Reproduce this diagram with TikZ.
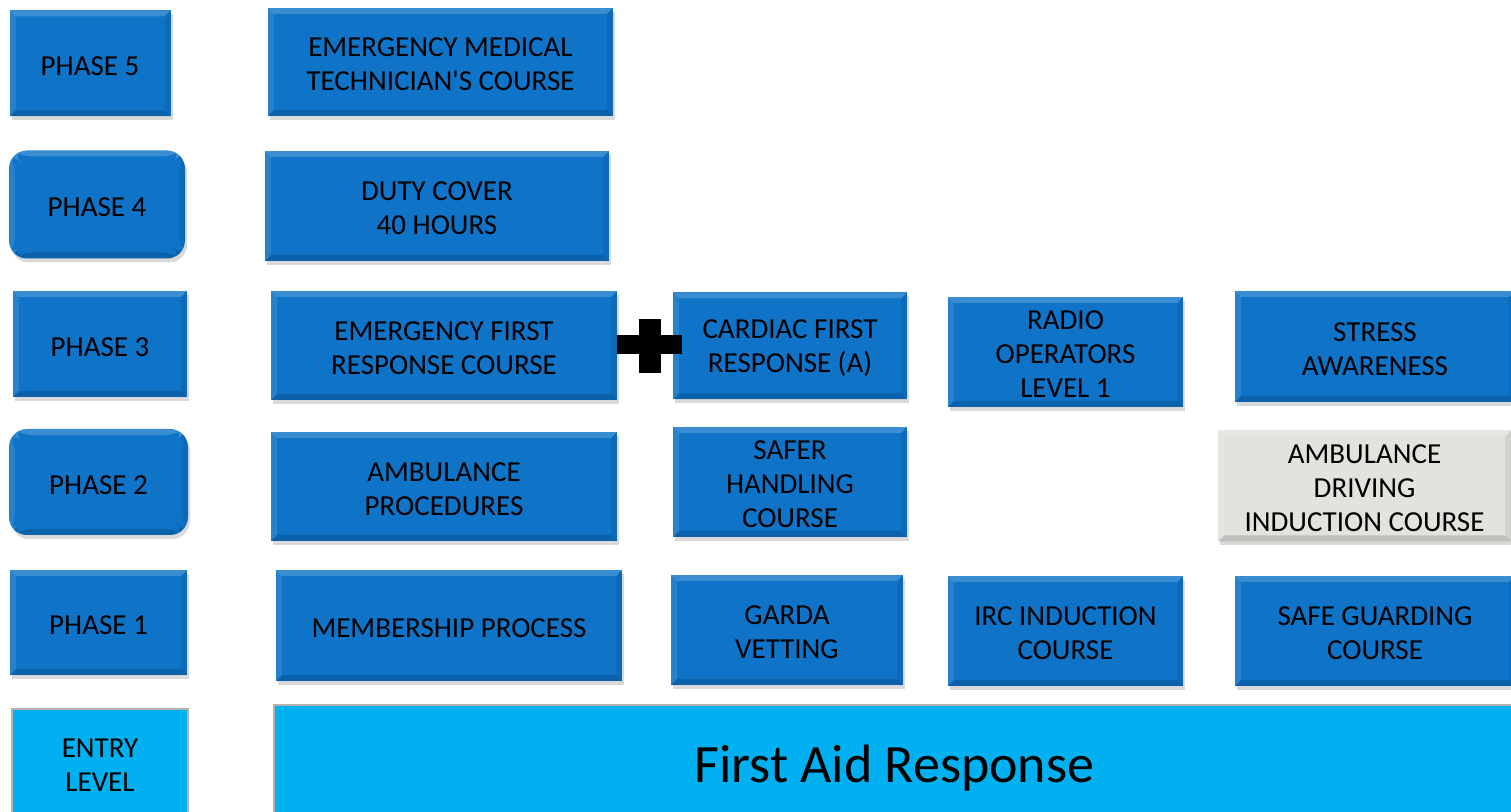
\documentclass[tikz,border=0pt]{standalone}
\usepackage{fontspec}
\setmainfont{Carlito}
\usetikzlibrary{shadows}
\definecolor{boxblue}{RGB}{15,116,200}
\definecolor{entryblue}{RGB}{0,176,240}
\definecolor{boxgrey}{RGB}{228,226,221}
\definecolor{rimgrey}{RGB}{182,178,170}
\newcommand{\linelift}{\rule{0pt}{12pt}}
\tikzset{
  bevel/.style={path picture={
    \fill[white,opacity=0.18] (path picture bounding box.north west) -- (path picture bounding box.north east)
      -- ([xshift=-3pt,yshift=-3pt]path picture bounding box.north east) -- ([xshift=3pt,yshift=-3pt]path picture bounding box.north west) -- cycle;
    \fill[white,opacity=0.10] (path picture bounding box.north west) -- ([xshift=3pt,yshift=-3pt]path picture bounding box.north west)
      -- ([xshift=3pt,yshift=3pt]path picture bounding box.south west) -- (path picture bounding box.south west) -- cycle;
    \fill[black,opacity=0.15] (path picture bounding box.south west) -- (path picture bounding box.south east)
      -- ([xshift=-3pt,yshift=3pt]path picture bounding box.south east) -- ([xshift=3pt,yshift=3pt]path picture bounding box.south west) -- cycle;
    \fill[black,opacity=0.08] (path picture bounding box.north east) -- ([xshift=-3pt,yshift=-3pt]path picture bounding box.north east)
      -- ([xshift=-3pt,yshift=3pt]path picture bounding box.south east) -- (path picture bounding box.south east) -- cycle;
  }},
  lift/.style={execute at begin node={\rule{0pt}{#1}}},
  phase/.style={rectangle, fill=boxblue, bevel, align=center, inner sep=0pt,
    drop shadow={shadow xshift=1pt, shadow yshift=-2pt, opacity=0.3},
    lift=12.5pt, font=\fontsize{14.5}{17}\selectfont},
  roundphase/.style={phase, rounded corners=9pt},
  course/.style={phase},
  greycourse/.style={phase, fill=boxgrey},
  entry/.style={rectangle, fill=entryblue, draw=rimgrey, line width=1.2pt, align=center, inner sep=0pt,
    lift=12.5pt, font=\fontsize{14.5}{17}\selectfont}
}
\begin{document}
\begin{tikzpicture}[x=0.5pt, y=-0.5pt]
\useasboundingbox (0,0) rectangle (1511,812);
% phases down the left side
\node[phase, minimum width=80.5pt, minimum height=53pt] (p5) at (90,63.5) {PHASE 5};
\node[roundphase, minimum width=88pt, minimum height=54pt] (p4) at (97,204.5) {PHASE 4};
\node[phase, minimum width=87pt, minimum height=53pt] (p3) at (100,344) {PHASE 3};
\node[roundphase, minimum width=89.5pt, minimum height=53pt] (p2) at (98.5,482) {PHASE 2};
\node[phase, minimum width=88.5pt, minimum height=52.5pt] (p1) at (98.5,622.5) {PHASE 1};
\node[entry, minimum width=88pt, minimum height=53pt] (entry) at (100,762) {\linelift ENTRY\\LEVEL};
% courses
\node[course, minimum width=172.5pt, minimum height=54pt] (emt) at (440.5,62) {\linelift EMERGENCY MEDICAL\\TECHNICIAN\textquotesingle S COURSE};
\node[course, minimum width=172pt, minimum height=55pt] (duty) at (437,206) {\linelift DUTY COVER\\40 HOURS};
\node[course, minimum width=173pt, minimum height=54.5pt] (efr) at (444,345.5) {\linelift EMERGENCY FIRST\\RESPONSE COURSE};
\node[course, minimum width=117pt, minimum height=53.5pt] (cfr) at (790,346) {\linelift CARDIAC FIRST\\RESPONSE (A)};
\node[course, minimum width=117.5pt, minimum height=55pt] (radio) at (1065.5,352) {\linelift RADIO\\OPERATORS\\LEVEL 1};
\node[course, minimum width=140pt, minimum height=55.5pt] (stress) at (1375,346.5) {\linelift STRESS\\AWARENESS};
\node[course, minimum width=173pt, minimum height=54.5pt] (ambproc) at (444,486.5) {\linelift AMBULANCE\\PROCEDURES};
\node[course, minimum width=117pt, minimum height=55pt] (safer) at (790,482) {\linelift SAFER\\HANDLING\\COURSE};
\node[greycourse, minimum width=146.5pt, minimum height=55.5pt] (ambdrive) at (1364.5,486) {\linelift AMBULANCE\\DRIVING\\INDUCTION COURSE};
\node[course, minimum width=173pt, minimum height=55.5pt] (member) at (449,625.5) {MEMBERSHIP PROCESS};
\node[course, minimum width=116pt, minimum height=55pt] (garda) at (787,630) {\linelift GARDA\\VETTING};
\node[course, minimum width=117.5pt, minimum height=55pt] (irc) at (1065.5,631) {\linelift IRC INDUCTION\\COURSE};
\node[course, minimum width=140pt, minimum height=55pt] (safeg) at (1375,631) {\linelift SAFE GUARDING\\COURSE};
\node[entry, minimum width=620.5pt, minimum height=55pt, font=\fontsize{27}{31}\selectfont, lift=26.5pt] (far) at (894.5,760) {First Aid Response};
% plus between efr and cfr
\coordinate (plus) at (650,345);
\fill[black] ([xshift=-5.5pt,yshift=13pt]plus) rectangle ([xshift=5.5pt,yshift=-14pt]plus);
\fill[black] ([xshift=-16.5pt,yshift=5pt]plus) rectangle ([xshift=16pt,yshift=-4.5pt]plus);
\end{tikzpicture}
\end{document}
